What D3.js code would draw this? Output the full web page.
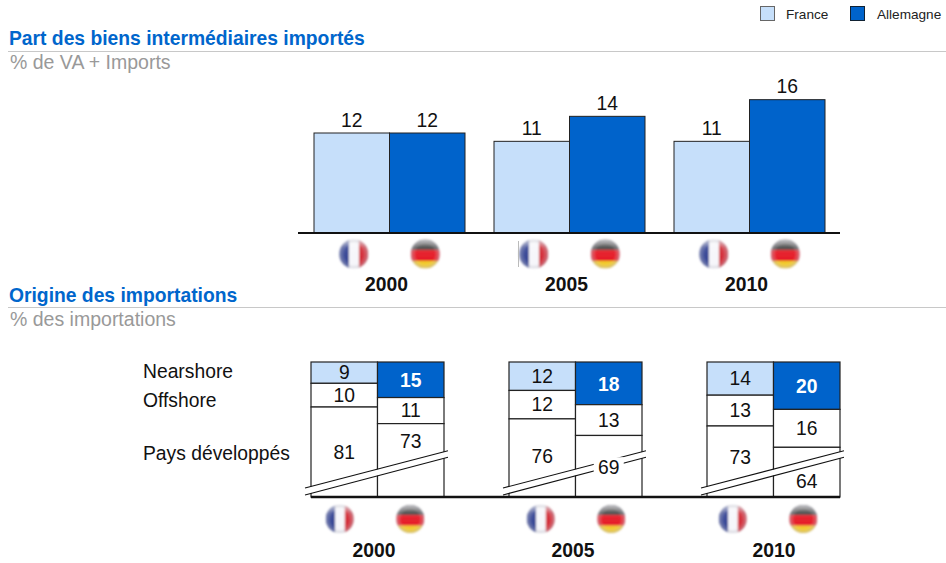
<!DOCTYPE html>
<html><head><meta charset="utf-8">
<style>html,body{margin:0;padding:0;background:#fff}svg{display:block}text{font-family:"Liberation Sans",Arial,sans-serif}</style>
<script src="https://cdn.jsdelivr.net/npm/d3@7"></script></head>
<body><script>
const years = ["2000","2005","2010"];
const countries = ["France","Allemagne"];
const importShare = { France:[12,11,11], Allemagne:[12,14,16] };
const nearshore = { France:[9,12,14], Allemagne:[15,18,20] };
const offshore = { France:[10,12,13], Allemagne:[11,13,16] };
const developed = { France:[81,76,73], Allemagne:[73,69,64] };
const rowLabels = ["Nearshore","Offshore","Pays développés"];
// where the developed-country label sits, in share units below the top of the column (axis is broken)
const developedLabelAt = { France:[38,40,40.5], Allemagne:[33.5,44.4,50.5] };

const LIGHT="#C6DFFA", DARK="#0063CB", BLUE="#0066CC", GRID="#c8c8c8", GREY="#999";
const FS=19.3;
const W=946,H=563;
const svg=d3.select("body").append("svg").attr("width",W).attr("height",H);
const defs=svg.append("defs");
defs.append("filter").attr("id","soft").append("feGaussianBlur").attr("stdDeviation",1);
const sheen=defs.append("radialGradient").attr("id","sheen").attr("cx","50%").attr("cy","50%").attr("r","52%");
sheen.append("stop").attr("offset","62%").attr("stop-color","#fff").attr("stop-opacity",0);
sheen.append("stop").attr("offset","100%").attr("stop-color","#99a").attr("stop-opacity",0.55);
const gloss=defs.append("linearGradient").attr("id","gloss").attr("x1",0).attr("x2",0).attr("y1",0).attr("y2",1);
gloss.append("stop").attr("offset","0%").attr("stop-color","#fff").attr("stop-opacity",0.7);
gloss.append("stop").attr("offset","28%").attr("stop-color","#fff").attr("stop-opacity",0.12);
gloss.append("stop").attr("offset","100%").attr("stop-color","#fff").attr("stop-opacity",0);
const clip=defs.append("clipPath").attr("id","disc").attr("clipPathUnits","objectBoundingBox");
clip.append("circle").attr("cx",.5).attr("cy",.5).attr("r",.5);

function label(x,y,t,o={}){
  return svg.append("text").attr("x",x).attr("y",y).text(t)
    .attr("font-size",o.size||FS).attr("font-weight",o.bold?"bold":null)
    .attr("fill",o.fill||"#111").attr("text-anchor",o.anchor||"middle")
    .attr("dominant-baseline","central");
}
function flag(cx,cy,r,country){
  const g=svg.append("g").attr("transform",`translate(${cx-r},${cy-r})`).attr("filter","url(#soft)");
  const d=2*r, inner=g.append("g").attr("clip-path","url(#disc)");
  inner.append("rect").attr("width",d).attr("height",d).attr("fill","#fff");
  const bands= country==="France"
    ? [["#2B3C8F",0,0,d*.34,d],["#F6F6FA",d*.34,0,d*.34,d],["#D0202C",d*.68,0,d*.32,d]]
    : [["#3a3a3a",0,0,d,d*.36],["#E4101C",0,d*.36,d,d*.38],["#F2C81E",0,d*.74,d,d*.26]];
  bands.forEach(b=>inner.append("rect").attr("x",b[1]).attr("y",b[2]).attr("width",b[3]).attr("height",b[4]).attr("fill",b[0]));
  inner.append("rect").attr("width",d).attr("height",d).attr("fill","url(#gloss)");
  inner.append("rect").attr("width",d).attr("height",d).attr("fill","url(#sheen)");
}

// Legend
countries.forEach((c,i)=>{
  const bx=[760,850][i];
  svg.append("rect").attr("x",bx+.5).attr("y",6.5).attr("width",14).attr("height",14)
    .attr("fill",i?DARK:LIGHT).attr("stroke",i?"#123":"#666").attr("stroke-width",1);
  label([786,877][i],14.5,c,{size:13.6,anchor:"start",fill:"#222"});
});

// Section headers
[[38.5,"Part des biens intermédiaires importés",62,"% de VA + Imports",51.5],
 [295.5,"Origine des importations",319,"% des importations",307.5]].forEach(s=>{
  label(9,s[0],s[1],{bold:true,fill:BLUE,anchor:"start"});
  label(10,s[2],s[3],{size:19.5,fill:GREY,anchor:"start"});
  svg.append("line").attr("x1",8).attr("x2",W).attr("y1",s[4]).attr("y2",s[4]).attr("stroke",GRID);
});

// Top chart
const x1=d3.scaleBand().domain(years).range([314,825]).paddingInner(29/180).paddingOuter(0);
const c1=d3.scaleBand().domain(countries).range([0,x1.bandwidth()]);
const y1=d3.scaleLinear().domain([0,12]).range([233,133]);
years.forEach((yr,i)=>countries.forEach((c,j)=>{
  const v=importShare[c][i], x=x1(yr)+c1(c);
  svg.append("rect").attr("x",x).attr("y",y1(v)).attr("width",c1.bandwidth()).attr("height",y1(0)-y1(v))
    .attr("fill",j?DARK:LIGHT).attr("stroke","#222").attr("stroke-width",1);
  label(x+c1.bandwidth()/2,y1(v)-13,v);
  flag(x+c1.bandwidth()/2+(j?-2:2),254,14.5,c);
}));
svg.append("line").attr("x1",518.5).attr("x2",518.5).attr("y1",241).attr("y2",267).attr("stroke","#bbb");
svg.append("line").attr("x1",298).attr("x2",840).attr("y1",233).attr("y2",233).attr("stroke","#111").attr("stroke-width",2);
years.forEach(yr=>label(x1(yr)+x1.bandwidth()/2-3,284,yr,{bold:true}));

// Bottom chart
const x2=d3.scaleBand().domain(years).range([311,840]).paddingInner(65/198).paddingOuter(0);
const c2=d3.scaleBand().domain(countries).range([0,x2.bandwidth()]);
const y2=d3.scaleLinear().domain([0,100]).range([362,599]);
const BASE=497;
const flagNudge={France:[-4.5,-1.5,-7.5],Allemagne:[-0.5,2.5,-3.5]};
const yearNudge=[-3.5,-2.5,0.5];
rowLabels.forEach((t,i)=>label(143,[371,400,453][i],t,{anchor:"start"}));
years.forEach((yr,i)=>{
  countries.forEach((c,j)=>{
    const x=x2(yr)+c2(c), w=c2.bandwidth();
    let cum=0;
    [[nearshore,j?DARK:LIGHT,j?"#fff":"#111"],[offshore,"#fff","#111"],[developed,"#fff","#111"]].forEach((s,k)=>{
      const v=s[0][c][i], top=y2(cum), bottom=k===2?BASE:y2(cum+v);
      svg.append("rect").attr("x",x).attr("y",top).attr("width",w).attr("height",bottom-top)
        .attr("fill",s[1]).attr("stroke","#222").attr("stroke-width",1.2);
      cum+=v;
    });
  });
  // axis break
  const bx=x2(yr)-6;
  const brk=svg.append("g");
  brk.append("path").attr("d",`M${bx},${491.5}L${bx+143},${454}`).attr("stroke","#fff").attr("stroke-width",6).attr("fill","none");
  d3.range(2).forEach(k=>brk.append("line").attr("x1",bx).attr("x2",bx+143)
    .attr("y1",488+k*7).attr("y2",450.7+k*6.6).attr("stroke","#111").attr("stroke-width",1.1));
  countries.forEach((c,j)=>{
    const x=x2(yr)+c2(c), w=c2.bandwidth(), cx=x+w/2;
    const n=nearshore[c][i], o=offshore[c][i], d=developed[c][i];
    label(cx,(y2(0)+y2(n))/2+(j?1:0),n,{bold:!!j,fill:j?"#fff":"#111"});
    label(cx,(y2(n)+y2(n+o))/2,o);
    const ly=y2(developedLabelAt[c][i]);
    if(yr==="2005"&&j) svg.append("rect").attr("x",cx-15).attr("y",ly-10).attr("width",30).attr("height",20).attr("fill","#fff");
    label(cx,ly,d);
    flag(cx+flagNudge[c][i],519,14,c);
  });
});
svg.append("line").attr("x1",311).attr("x2",840).attr("y1",BASE).attr("y2",BASE).attr("stroke","#111").attr("stroke-width",2.4);
years.forEach((yr,i)=>label(x2(yr)+x2.bandwidth()/2+yearNudge[i],550,yr,{bold:true}));
</script></body></html>
